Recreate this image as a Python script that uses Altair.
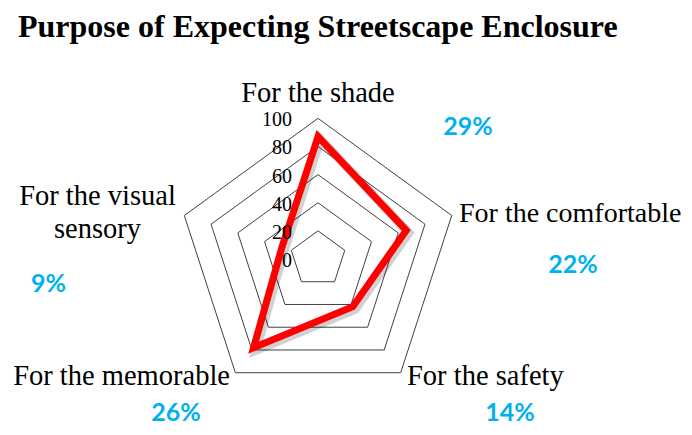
import altair as alt
import pandas as pd

categories = ["For the shade", "For the comfortable", "For the safety",
              "For the memorable", "For the visual sensory"]
values = [87, 66, 42, 78, 27]
percent_labels = ["29%", "22%", "14%", "26%", "9%"]
ring_levels = [20, 40, 60, 80, 100]
tick_levels = [0, 20, 40, 60, 80, 100]

n = len(categories)
series_df = pd.DataFrame({"category": categories, "idx": list(range(n)), "value": values})
grid_df = pd.DataFrame([
    {"ring": lvl, "idx": i, "value": lvl} for lvl in ring_levels for i in range(n)
])
tick_df = pd.DataFrame({"value": tick_levels})

W, H = 676, 419
xdom = [-220.5, 260.3]
ydom = [-119.5, 178.5]
xscale = alt.Scale(domain=xdom, nice=False, zero=False)
yscale = alt.Scale(domain=ydom, nice=False, zero=False)
# shadow scales: shifted by ~2.5px right/down
sh = 2.5 / 1.406
xscale_sh = alt.Scale(domain=[xdom[0] - sh, xdom[1] - sh], nice=False, zero=False)
yscale_sh = alt.Scale(domain=[ydom[0] + sh, ydom[1] + sh], nice=False, zero=False)

def polar(chart):
    return chart.transform_calculate(
        theta="datum.idx * 2 * PI / 5",
    ).transform_calculate(
        px="datum.value * sin(datum.theta)",
        py="datum.value * cos(datum.theta)",
    )

grid = polar(alt.Chart(grid_df)).mark_line(
    interpolate="linear-closed", color="#404040", strokeWidth=1
).encode(
    x=alt.X("px:Q", scale=xscale, axis=None),
    y=alt.Y("py:Q", scale=yscale, axis=None),
    order="idx:Q",
    detail="ring:N",
)

shadow = polar(alt.Chart(series_df)).mark_line(
    interpolate="linear-closed", color="#000000", opacity=0.18, strokeWidth=9, strokeJoin="miter"
).encode(
    x=alt.X("px:Q", scale=xscale_sh, axis=None),
    y=alt.Y("py:Q", scale=yscale_sh, axis=None),
    order="idx:Q",
)

series = polar(alt.Chart(series_df)).mark_line(
    interpolate="linear-closed", color="#FF0000", strokeWidth=7, strokeJoin="miter"
).encode(
    x=alt.X("px:Q", scale=xscale, axis=None),
    y=alt.Y("py:Q", scale=yscale, axis=None),
    order="idx:Q",
)

ticks = alt.Chart(tick_df).mark_text(
    align="right", baseline="middle", dx=-26, dy=2, font="Liberation Serif", fontSize=20, color="#000000"
).encode(
    x=alt.X(datum=0, scale=xscale, axis=None),
    y=alt.Y("value:Q", scale=yscale, axis=None),
    text="value:Q",
)

def label(text, x, y, align, font="Liberation Serif", size=28.5, color="#000000", weight="normal", **kw):
    return alt.Chart(pd.DataFrame({"t": [0]})).mark_text(
        align=align, baseline="alphabetic", font=font, fontSize=size, color=color,
        fontWeight=weight, **kw
    ).encode(x=alt.value(x), y=alt.value(y), text=alt.value(text))

title = label("Purpose of Expecting Streetscape Enclosure", 10, 29, "left", size=32, weight="bold")

cat_labels = [
    label(categories[0], 310, 94, "center"),
    label(categories[1], 451, 214, "left", size=28),
    label(categories[2], 399, 377, "left"),
    label(categories[3], 222, 377, "right"),
    label(["For the visual", "sensory"], 89.5, 197, "center", lineHeight=33),
]

pct_style = dict(font="Lato", size=25, color="#00B0F0", weight="bold")
pct_labels = [
    label(percent_labels[0], 460, 127, "center", **pct_style),
    label(percent_labels[1], 565, 265, "center", **pct_style),
    label(percent_labels[2], 502, 413, "center", **pct_style),
    label(percent_labels[3], 168, 413, "center", **pct_style),
    label(percent_labels[4], 40.5, 284, "center", **pct_style),
]

chart = alt.layer(grid, shadow, series, ticks, title, *cat_labels, *pct_labels).resolve_scale(
    x="independent", y="independent"
).properties(
    width=W, height=H, autosize=alt.AutoSizeParams(type="none"), padding=0
).configure_view(stroke=None)

chart.save("out.html", embed_options={"renderer": "svg", "actions": False})
